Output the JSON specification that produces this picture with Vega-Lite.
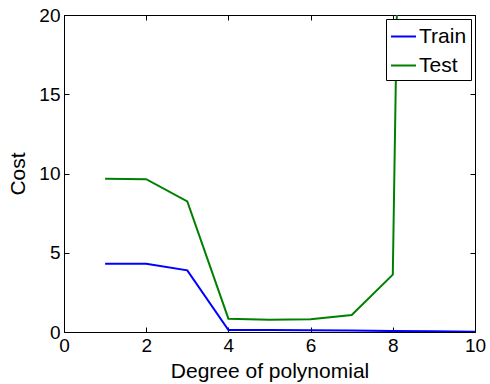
{
  "$schema": "https://vega.github.io/schema/vega-lite/v6.json",
  "width": 411,
  "height": 317,
  "autosize": "none",
  "padding": {"left": 64, "top": 15, "right": 15, "bottom": 52},
  "background": "white",
  "config": {
    "font": "Liberation Sans",
    "view": {"stroke": "black", "strokeWidth": 1},
    "axis": {
      "grid": false,
      "domainColor": "black",
      "tickColor": "black",
      "labelColor": "black",
      "titleColor": "black",
      "labelFontSize": 19,
      "titleFontSize": 21,
      "titleFontWeight": "normal",
      "tickSize": -5,
      "labelPadding": 7,
      "labelFlush": false,
      "labelOverlap": false,
      "labelFont": "Liberation Sans",
      "titleFont": "Liberation Sans"
    }
  },
  "data": {
    "values": [
      {"degree": 1, "cost": 4.31, "set": "Train"},
      {"degree": 2, "cost": 4.31, "set": "Train"},
      {"degree": 3, "cost": 3.89, "set": "Train"},
      {"degree": 4, "cost": 0.12, "set": "Train"},
      {"degree": 5, "cost": 0.12, "set": "Train"},
      {"degree": 6, "cost": 0.11, "set": "Train"},
      {"degree": 7, "cost": 0.09, "set": "Train"},
      {"degree": 8, "cost": 0.06, "set": "Train"},
      {"degree": 9, "cost": 0.04, "set": "Train"},
      {"degree": 10, "cost": 0.02, "set": "Train"},
      {"degree": 1, "cost": 9.67, "set": "Test"},
      {"degree": 2, "cost": 9.64, "set": "Test"},
      {"degree": 3, "cost": 8.24, "set": "Test"},
      {"degree": 4, "cost": 0.84, "set": "Test"},
      {"degree": 5, "cost": 0.78, "set": "Test"},
      {"degree": 6, "cost": 0.8, "set": "Test"},
      {"degree": 7, "cost": 1.07, "set": "Test"},
      {"degree": 8, "cost": 3.62, "set": "Test"},
      {"degree": 9, "cost": 170, "set": "Test"},
      {"degree": 10, "cost": 200, "set": "Test"}
    ]
  },
  "layer": [
    {
      "mark": {"type": "line", "clip": true, "strokeWidth": 2},
      "encoding": {
        "x": {
          "field": "degree", "type": "quantitative",
          "scale": {"domain": [0, 10], "nice": false, "zero": false},
          "axis": {"orient": "bottom", "values": [0, 2, 4, 6, 8, 10], "title": "Degree of polynomial", "titlePadding": 5, "labelPadding": 9}
        },
        "y": {
          "field": "cost", "type": "quantitative",
          "scale": {"domain": [0, 20], "nice": false, "zero": false},
          "axis": {"orient": "left", "values": [0, 5, 10, 15, 20], "title": "Cost", "titlePadding": 10, "labelPadding": 9}
        },
        "color": {
          "field": "set", "type": "nominal",
          "scale": {"domain": ["Train", "Test"], "range": ["#0000ff", "#008000"]},
          "legend": {
            "title": null,
            "orient": "top-right",
            "offset": 4,
            "fillColor": "white",
            "strokeColor": "black",
            "padding": 4,
            "symbolType": "stroke",
            "symbolSize": 625,
            "symbolStrokeWidth": 2,
            "labelFontSize": 21,
            "labelColor": "black",
            "labelFont": "Liberation Sans",
            "labelOffset": 2,
            "rowPadding": 5
          }
        },
        "order": {"field": "degree", "type": "quantitative"}
      }
    },
    {
      "mark": {"type": "line", "clip": true, "opacity": 0},
      "encoding": {
        "x": {
          "field": "degree", "type": "quantitative",
          "axis": {"orient": "top", "values": [0, 2, 4, 6, 8, 10], "labels": false, "title": null, "domain": false}
        },
        "y": {
          "field": "cost", "type": "quantitative",
          "axis": {"orient": "right", "values": [0, 5, 10, 15, 20], "labels": false, "title": null, "domain": false}
        },
        "detail": {"field": "set", "type": "nominal"}
      }
    }
  ],
  "resolve": {"axis": {"x": "independent", "y": "independent"}}
}
